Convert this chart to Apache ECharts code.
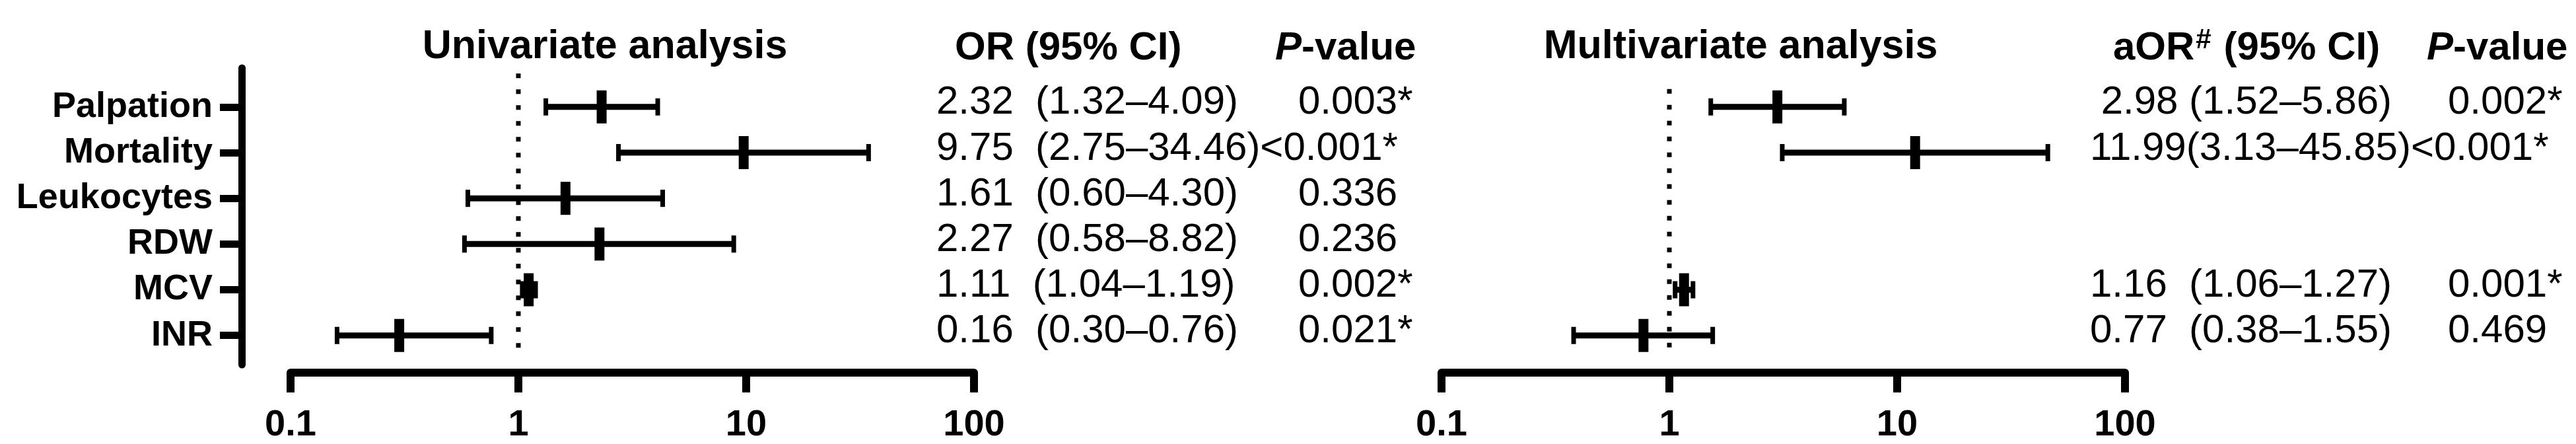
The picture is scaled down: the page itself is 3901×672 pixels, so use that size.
<!DOCTYPE html>
<html>
<head>
<meta charset="utf-8">
<script src="https://cdn.jsdelivr.net/npm/echarts@6/dist/echarts.min.js"></script>
<style>html,body{margin:0;padding:0;background:#fff}#c{width:3901px;height:672px}</style>
</head>
<body>
<div id="c"></div>
<script>
// ---- data ----
const categories = ['Palpation', 'Mortality', 'Leukocytes', 'RDW', 'MCV', 'INR'];
// univariate (plotted point / CI as drawn)
const uniPoint = [2.32, 9.75, 1.61, 2.27, 1.11, 0.30];
const uniLow   = [1.32, 2.75, 0.60, 0.58, 1.04, 0.16];
const uniHigh  = [4.09, 34.46, 4.30, 8.82, 1.19, 0.76];
const uniText  = ['2.32  (1.32\u20134.09)', '9.75  (2.75\u201334.46)', '1.61  (0.60\u20134.30)', '2.27  (0.58\u20138.82)', '1.11  (1.04\u20131.19)', '0.16  (0.30\u20130.76)'];
const uniP     = ['0.003*', '<0.001*', '0.336', '0.236', '0.002*', '0.021*'];
// multivariate
const multiPoint = [2.98, 11.99, null, null, 1.16, 0.77];
const multiLow   = [1.52, 3.13, null, null, 1.06, 0.38];
const multiHigh  = [5.86, 45.85, null, null, 1.27, 1.55];
const multiText  = [' 2.98 (1.52\u20135.86)', '11.99(3.13\u201345.85)', '', '', '1.16  (1.06\u20131.27)', '0.77  (0.38\u20131.55)'];
const multiP     = ['0.002*', '<0.001*', '', '', '0.001*', '0.469'];
const xTicks      = [0.1, 1, 10, 100];
const xTickLabels = ['0.1', '1', '10', '100'];
const refValue = 1;

// ---- layout ----
const FONT = "'Liberation Sans', Arial, Helvetica, sans-serif";
const rowIdx = categories.map((c, i) => i);

function tickLabel(v) {
  const k = xTicks.findIndex(t => Math.abs(Math.log10(t) - Math.log10(v)) < 1e-6);
  return k >= 0 ? xTickLabels[k] : '';
}

function errRender(params, api) {
  const row = api.value(0);
  const lo = api.coord([api.value(1), row]);
  const pt = api.coord([api.value(2), row]);
  const hi = api.coord([api.value(3), row]);
  const f = { fill: '#000' };
  return {
    type: 'group',
    children: [
      { type: 'line', shape: { x1: lo[0], y1: lo[1], x2: hi[0], y2: hi[1] }, style: { stroke: '#000', lineWidth: 9 } },
      { type: 'rect', shape: { x: lo[0] - 3.5, y: lo[1] - 13, width: 7, height: 26 }, style: f },
      { type: 'rect', shape: { x: hi[0] - 3.5, y: hi[1] - 13, width: 7, height: 26 }, style: f },
      { type: 'rect', shape: { x: pt[0] - 7.5, y: pt[1] - 25, width: 15, height: 50 }, style: f }
    ]
  };
}

function textRenderer(textArr, pArr, xText, xP) {
  return function (params, api) {
    const row = api.value(1);
    const y = api.coord([refValue, row])[1] - 6;
    const t = textArr[row];
    const p = pArr[row];
    const children = [];
    const base = { font: '60px ' + FONT, fill: '#000', verticalAlign: 'middle', align: 'left' };
    if (p && p.charAt(0) === '<') {
      children.push({ type: 'text', x: xText, y: y, style: Object.assign({ text: t + p }, base) });
    } else {
      if (t) children.push({ type: 'text', x: xText, y: y, style: Object.assign({ text: t }, base) });
      if (p) children.push({ type: 'text', x: xP, y: y, style: Object.assign({ text: p }, base) });
    }
    return { type: 'group', children: children };
  };
}

function xAxisCfg(gi) {
  return {
    type: 'log', logBase: 10, gridIndex: gi, min: 0.1, max: 100, position: 'bottom', offset: 12,
    axisLine: { show: true, onZero: false, lineStyle: { color: '#000', width: 12 } },
    axisTick: { show: true, length: 30, lineStyle: { color: '#000', width: 12 } },
    minorTick: { show: false },
    splitLine: { show: false },
    axisLabel: { color: '#000', fontSize: 56, fontWeight: 'bold', fontFamily: FONT, margin: 52, formatter: tickLabel }
  };
}

function yAxisCfg(gi, visible) {
  return {
    type: 'value', gridIndex: gi, inverse: true, min: -0.85, max: 5.64, position: 'left', offset: 74,
    axisLine: { show: visible, onZero: false, lineStyle: { color: '#000', width: 11 } },
    axisTick: { show: visible, length: 33, customValues: rowIdx, lineStyle: { color: '#000', width: 11 } },
    axisLabel: { show: visible, customValues: rowIdx, color: '#000', fontSize: 54, fontWeight: 'bold', fontFamily: FONT, margin: 44,
      formatter: v => categories[Math.round(v)] || '' },
    splitLine: { show: false }
  };
}

const uniErr = categories.map((c, i) => [i, uniLow[i], uniPoint[i], uniHigh[i]]);
const multiErr = categories.map((c, i) => [i, multiLow[i], multiPoint[i], multiHigh[i]]).filter(d => d[2] != null);

const headRich = {
  b: { font: 'bold 60px ' + FONT, fill: '#000' },
  i: { font: 'italic bold 60px ' + FONT, fill: '#000' },
  sup: { font: 'bold 42px ' + FONT, fill: '#000', verticalAlign: 'top', padding: [0, 2, 24, 2] }
};

const option = {
  backgroundColor: '#fff',
  animation: false,
  grid: [
    { left: 440, width: 1035, top: 103, height: 449 },
    { left: 2183, width: 1035, top: 103, height: 449 }
  ],
  xAxis: [xAxisCfg(0), xAxisCfg(1)],
  yAxis: [yAxisCfg(0, true), yAxisCfg(1, false)],
  graphic: [
    { type: 'text', x: 916, y: 71, style: { text: 'Univariate analysis', font: 'bold 61px ' + FONT, fill: '#000', align: 'center', verticalAlign: 'middle' } },
    { type: 'text', x: 1446, y: 73, style: { text: 'OR (95% CI)', font: 'bold 60px ' + FONT, fill: '#000', align: 'left', verticalAlign: 'middle' } },
    { type: 'text', x: 1931, y: 73, style: { text: '{i|P}{b|-value}', rich: headRich, align: 'left', verticalAlign: 'middle' } },
    { type: 'text', x: 2636, y: 71, style: { text: 'Multivariate analysis', font: 'bold 61px ' + FONT, fill: '#000', align: 'center', verticalAlign: 'middle' } },
    { type: 'text', x: 3200, y: 73, style: { text: '{b|aOR}{sup|#}{b| (95% CI)}', rich: headRich, align: 'left', verticalAlign: 'middle' } },
    { type: 'text', x: 3675, y: 73, style: { text: '{i|P}{b|-value}', rich: headRich, align: 'left', verticalAlign: 'middle' } }
  ],
  series: [
    { type: 'line', xAxisIndex: 0, yAxisIndex: 0, data: [[refValue, -0.73], [refValue, 5.38]], symbol: 'none', silent: true,
      lineStyle: { color: '#000', width: 7, type: [7, 17] }, z: 1 },
    { type: 'line', xAxisIndex: 1, yAxisIndex: 1, data: [[refValue, -0.39], [refValue, 5.44]], symbol: 'none', silent: true,
      lineStyle: { color: '#000', width: 7, type: [7, 17] }, z: 1 },
    { type: 'custom', xAxisIndex: 0, yAxisIndex: 0, data: uniErr, encode: { x: [1, 2, 3], y: 0 }, renderItem: errRender, z: 3 },
    { type: 'custom', xAxisIndex: 1, yAxisIndex: 1, data: multiErr, encode: { x: [1, 2, 3], y: 0 }, renderItem: errRender, z: 3 },
    { type: 'custom', xAxisIndex: 0, yAxisIndex: 0, data: rowIdx.map(i => [refValue, i]), encode: { x: 0, y: 1 },
      renderItem: textRenderer(uniText, uniP, 1418, 1966), z: 4 },
    { type: 'custom', xAxisIndex: 1, yAxisIndex: 1, data: rowIdx.map(i => [refValue, i]), encode: { x: 0, y: 1 },
      renderItem: textRenderer(multiText, multiP, 3165, 3707), z: 4 }
  ]
};

const chart = echarts.init(document.getElementById('c'), null, { renderer: 'canvas' });
chart.setOption(option);
</script>
</body>
</html>
